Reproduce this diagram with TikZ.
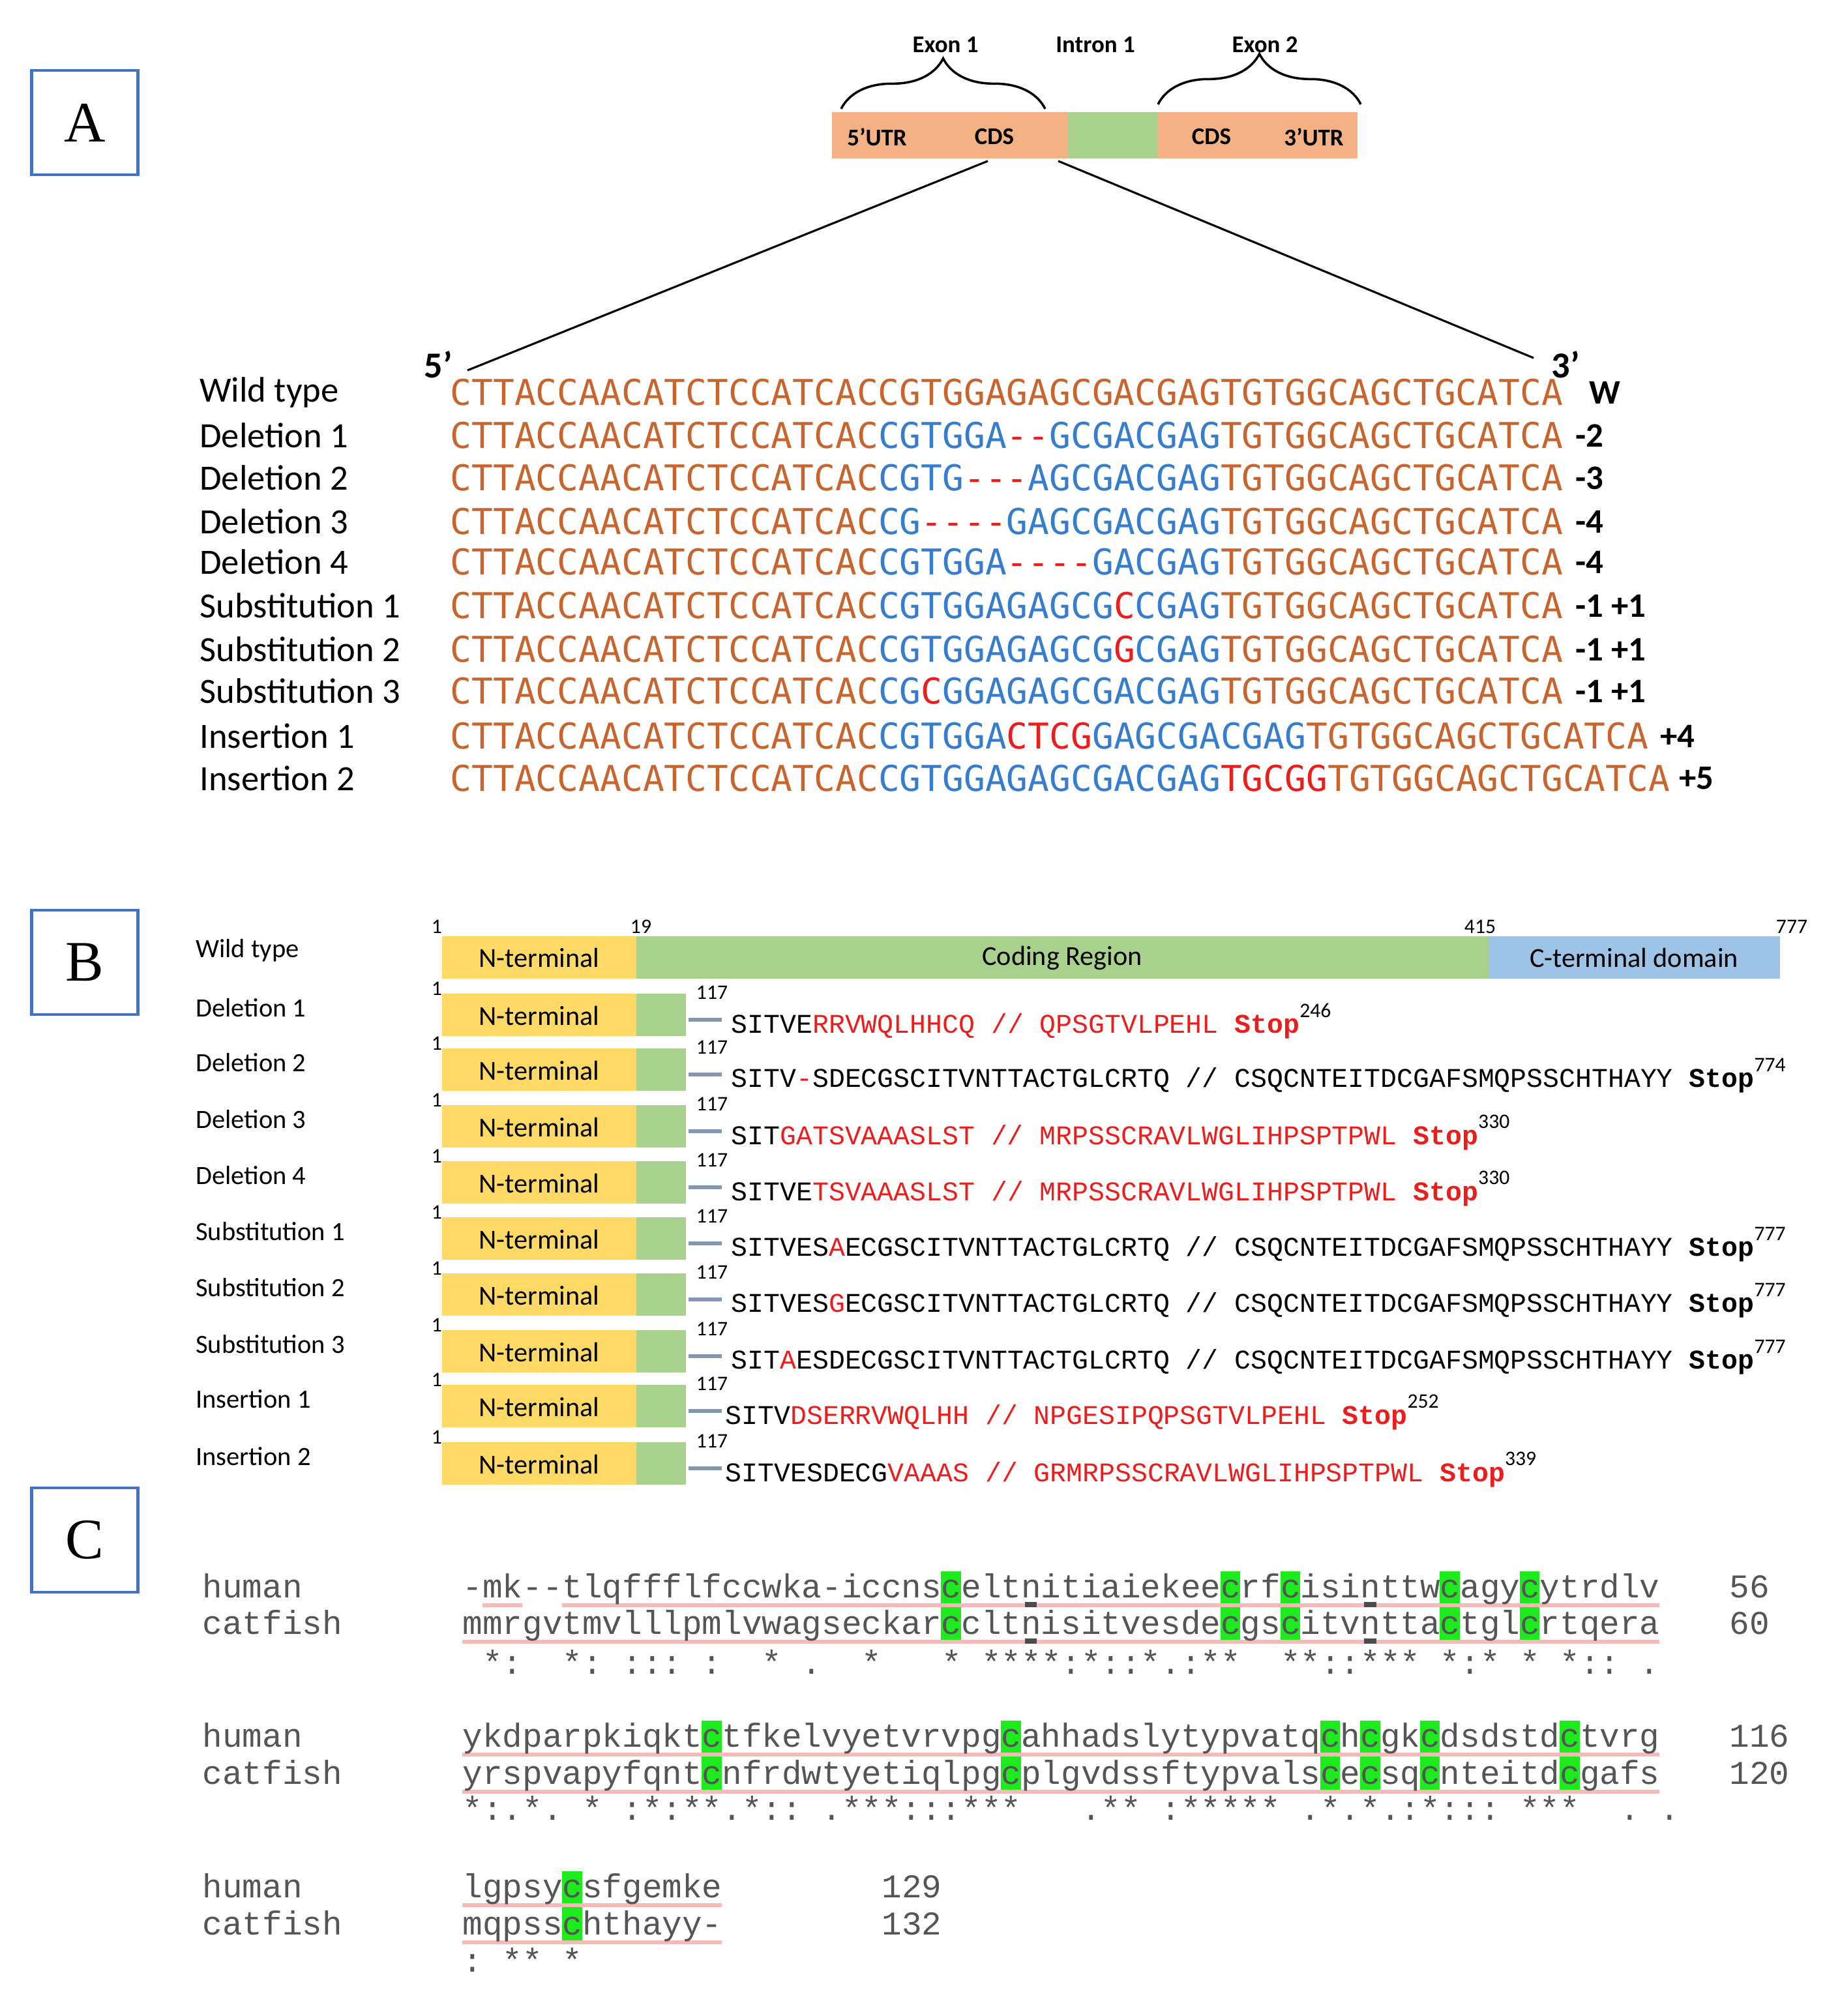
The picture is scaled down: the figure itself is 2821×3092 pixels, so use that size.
\documentclass[tikz,border=0pt]{standalone}
\usepackage{fontspec}
\setmainfont{Carlito}
\newfontfamily\seqA{DejaVu Sans Mono}
\newfontfamily\cour{Liberation Mono}
\newfontfamily\serifL{Liberation Serif}
\usetikzlibrary{decorations.pathreplacing}
\definecolor{sor}{RGB}{200,100,45}
\definecolor{sbl}{RGB}{55,125,205}
\definecolor{sred}{RGB}{235,30,30}
\definecolor{frameblue}{RGB}{68,114,196}
\definecolor{barorange}{RGB}{244,177,131}
\definecolor{bargreen}{RGB}{169,209,142}
\definecolor{baryellow}{RGB}{255,217,102}
\definecolor{barblue}{RGB}{157,195,230}
\definecolor{dashgrey}{RGB}{132,150,176}
\definecolor{cgrey}{RGB}{85,85,85}
\definecolor{cpink}{RGB}{250,185,185}
\definecolor{cgreen}{RGB}{30,235,30}
\newcommand\Og[1]{\textcolor{sor}{#1}}
\newcommand\Bl[1]{\textcolor{sbl}{#1}}
\newcommand\Rd[1]{\textcolor{sred}{#1}}
\newcommand\Stp[2]{\textbf{\textcolor{#1}{Stop}}\raisebox{1.1ex}{\rmfamily\fontsize{9}{9}\selectfont #2}}
\tikzset{
  panel/.style={draw=frameblue,line width=1.2pt,minimum width=1.63cm,minimum height=1.6cm,font=\serifL\fontsize{25}{25}\selectfont},
  rowlab/.style={anchor=west,font=\fontsize{15.5}{16}\selectfont},
  seq/.style={anchor=west,inner sep=0,font=\seqA\fontsize{15.5}{16}\selectfont},
  ctag/.style={anchor=west,font=\bfseries\fontsize{15}{16}\selectfont},
  blab/.style={anchor=west,font=\fontsize{11.5}{12}\selectfont},
  bseq/.style={anchor=west,inner sep=0,font=\cour\fontsize{11.8}{12}\selectfont},
  bnum/.style={font=\fontsize{9}{9}\selectfont,inner sep=0},
  cseq/.style={anchor=base west,inner sep=0,text=cgrey,font=\cour\fontsize{14.5}{15}\selectfont},
  brc/.style={line width=1pt,decoration={brace,amplitude=22},decorate},
}
\begin{document}
\begin{tikzpicture}[x=0.01cm,y=-0.01cm]
\useasboundingbox (0,0) rectangle (2821,3092);
% panel frames
\node[panel] (pA) at (130,188) {A};
\node[panel] (pB) at (130,1476) {B};
\node[panel] (pC) at (130,2362) {C};
% ---------- A: gene bar
\fill[barorange] (1276,172) rectangle (2082,243);
\fill[bargreen] (1638,172) rectangle (1776,243);
\node[font=\bfseries\fontsize{10.5}{11}\selectfont] (u5) at (1345,210) {5'UTR};
\node[font=\bfseries\fontsize{10.5}{11}\selectfont] (cd1) at (1525,210) {CDS};
\node[font=\bfseries\fontsize{10.5}{11}\selectfont] (cd2) at (1858,210) {CDS};
\node[font=\bfseries\fontsize{10.5}{11}\selectfont] (u3) at (2015,210) {3'UTR};
\draw[brc] (1290,167) -- (1603,167);
\draw[brc] (1776,160) -- (2087,160);
\node[font=\bfseries\fontsize{10.5}{11}\selectfont] (e1) at (1450,69) {Exon 1};
\node[font=\bfseries\fontsize{10.5}{11}\selectfont] (i1) at (1680,69) {Intron 1};
\node[font=\bfseries\fontsize{10.5}{11}\selectfont] (e2) at (1940,69) {Exon 2};
\coordinate (zl) at (1515,247); \coordinate (zr) at (1623,247);
\coordinate (zl2) at (717,568); \coordinate (zr2) at (2352,549);
\draw[line width=0.9pt] (zl) -- (zl2);
\draw[line width=0.9pt] (zr) -- (zr2);
\node[font=\bfseries\fontsize{16}{16}\selectfont] (p5) at (672,559) {5'};
\node[font=\bfseries\fontsize{16}{16}\selectfont] (p3) at (2401,559) {3'};
% ---------- A: sequences
\node[rowlab] (l1) at (294,602) {Wild type};
\node[rowlab] (l2) at (294,668) {Deletion 1};
\node[rowlab] (l3) at (294,733) {Deletion 2};
\node[rowlab] (l4) at (294,800) {Deletion 3};
\node[rowlab] (l5) at (294,862) {Deletion 4};
\node[rowlab] (l6) at (294,929) {Substitution 1};
\node[rowlab] (l7) at (294,996) {Substitution 2};
\node[rowlab] (l8) at (294,1060) {Substitution 3};
\node[rowlab] (l9) at (294,1129) {Insertion 1};
\node[rowlab] (l10) at (294,1194) {Insertion 2};
\node[seq] (s1) at (690,602) {\Og{CTTACCAACATCTCCATCACCGTGGAGAGCGACGAGTGTGGCAGCTGCATCA}};
\node[seq] (s2) at (690,668) {\Og{CTTACCAACATCTCCATCAC}\Bl{CGTGGA}\Rd{-{}-}\Bl{GCGACGAG}\Og{TGTGGCAGCTGCATCA}};
\node[seq] (s3) at (690,733) {\Og{CTTACCAACATCTCCATCAC}\Bl{CGTG}\Rd{-{}-{}-}\Bl{AGCGACGAG}\Og{TGTGGCAGCTGCATCA}};
\node[seq] (s4) at (690,800) {\Og{CTTACCAACATCTCCATCAC}\Bl{CG}\Rd{-{}-{}-{}-}\Bl{GAGCGACGAG}\Og{TGTGGCAGCTGCATCA}};
\node[seq] (s5) at (690,862) {\Og{CTTACCAACATCTCCATCAC}\Bl{CGTGGA}\Rd{-{}-{}-{}-}\Bl{GACGAG}\Og{TGTGGCAGCTGCATCA}};
\node[seq] (s6) at (690,929) {\Og{CTTACCAACATCTCCATCAC}\Bl{CGTGGAGAGCG}\Rd{C}\Bl{CGAG}\Og{TGTGGCAGCTGCATCA}};
\node[seq] (s7) at (690,996) {\Og{CTTACCAACATCTCCATCAC}\Bl{CGTGGAGAGCG}\Rd{G}\Bl{CGAG}\Og{TGTGGCAGCTGCATCA}};
\node[seq] (s8) at (690,1060) {\Og{CTTACCAACATCTCCATCAC}\Bl{CG}\Rd{C}\Bl{GGAGAGCGACGAG}\Og{TGTGGCAGCTGCATCA}};
\node[seq] (s9) at (690,1129) {\Og{CTTACCAACATCTCCATCAC}\Bl{CGTGGA}\Rd{CTCG}\Bl{GAGCGACGAG}\Og{TGTGGCAGCTGCATCA}};
\node[seq] (s10) at (690,1194) {\Og{CTTACCAACATCTCCATCAC}\Bl{CGTGGAGAGCGACGAG}\Rd{TGCGG}\Og{TGTGGCAGCTGCATCA}};
\node[ctag] (t1) at (2425,602) {W};
\node[ctag] (t2) at (2404,668) {-2};
\node[ctag] (t3) at (2404,733) {-3};
\node[ctag] (t4) at (2404,800) {-4};
\node[ctag] (t5) at (2404,862) {-4};
\node[ctag] (t6) at (2404,929) {-1 +1};
\node[ctag] (t7) at (2404,996) {-1 +1};
\node[ctag] (t8) at (2404,1060) {-1 +1};
\node[ctag] (t9) at (2534,1129) {+4};
\node[ctag] (t10) at (2563,1194) {+5};
% ---------- B: wild type bar
\fill[baryellow] (678,1436) rectangle (976,1501);
\fill[bargreen] (976,1436) rectangle (2283,1501);
\fill[barblue] (2283,1436) rectangle (2730,1501);
\node[font=\fontsize{12}{12}\selectfont] (nt) at (827,1469) {N-terminal};
\node[font=\fontsize{12}{12}\selectfont] (cr) at (1629,1469) {Coding Region};
\node[font=\fontsize{12}{12}\selectfont] (ct) at (2506,1469) {C-terminal domain};
\node[bnum] (n1) at (670,1421) {1};
\node[bnum] (n19) at (983,1421) {19};
\node[bnum] (n415) at (2270,1421) {415};
\node[bnum] (n777) at (2748,1421) {777};
\node[blab] (bw) at (288,1458) {Wild type};
\newcommand\mrow[4]{%
  \fill[baryellow] (678,#1-32) rectangle (976,#1+33);
  \fill[bargreen] (976,#1-32) rectangle (1052,#1+33);
  \node[font=\fontsize{12}{12}\selectfont] at (827,#1+2) {N-terminal};
  \node[bnum] at (670,#1-40) {1};
  \draw[dashgrey,line width=1.6pt] (1056,#1+8) -- (1107,#1+8);
  \node[bnum] at (1092,#1-34) {117};
  \node[blab] at (288,#1-10) {#2};
  \node[bseq] at (#3,#1+10) {#4};}
\mrow{1556}{Deletion 1}{1121}{SITVE\Rd{RRVWQLHHCQ // QPSGTVLPEHL }\Stp{sred}{246}}
\mrow{1640}{Deletion 2}{1121}{SITV\Rd{-}SDECGSCITVNTTACTGLCRTQ // CSQCNTEITDCGAFSMQPSSCHTHAYY \Stp{black}{774}}
\mrow{1727}{Deletion 3}{1121}{SIT\Rd{GATSVAAASLST // MRPSSCRAVLWGLIHPSPTPWL }\Stp{sred}{330}}
\mrow{1813}{Deletion 4}{1121}{SITVE\Rd{TSVAAASLST // MRPSSCRAVLWGLIHPSPTPWL }\Stp{sred}{330}}
\mrow{1899}{Substitution 1}{1121}{SITVES\Rd{A}ECGSCITVNTTACTGLCRTQ // CSQCNTEITDCGAFSMQPSSCHTHAYY \Stp{black}{777}}
\mrow{1985}{Substitution 2}{1121}{SITVES\Rd{G}ECGSCITVNTTACTGLCRTQ // CSQCNTEITDCGAFSMQPSSCHTHAYY \Stp{black}{777}}
\mrow{2072}{Substitution 3}{1121}{SIT\Rd{A}ESDECGSCITVNTTACTGLCRTQ // CSQCNTEITDCGAFSMQPSSCHTHAYY \Stp{black}{777}}
\mrow{2156}{Insertion 1}{1112}{SITV\Rd{DSERRVWQLHH // NPGESIPQPSGTVLPEHL }\Stp{sred}{252}}
\mrow{2244}{Insertion 2}{1112}{SITVESDECG\Rd{VAAAS // GRMRPSSCRAVLWGLIHPSPTPWL }\Stp{sred}{339}}
% ---------- C
\newcommand\grn[3]{\foreach \i in {#3} {\fill[cgreen] (709+\i*30.6,#1-40) rectangle (709+\i*30.6+30.6,#2+14);}}
\newcommand\ull[3]{\fill[cpink] (709+#2*30.6,#1+9) rectangle (709+#3*30.6,#1+15);}
% block 1
\grn{2450}{2506}{24,38,41,49,53}
\ull{2450}{1}{3}\ull{2450}{5}{60}\ull{2506}{0}{60}
\fill[black!70] (709+28*30.6+6,2457) rectangle (709+29*30.6-6,2465);
\fill[black!70] (709+45*30.6+6,2457) rectangle (709+46*30.6-6,2465);
\fill[black!70] (709+28*30.6+6,2513) rectangle (709+29*30.6-6,2521);
\fill[black!70] (709+45*30.6+6,2513) rectangle (709+46*30.6-6,2521);
\node[cseq] (h1n) at (310,2450) {human};
\node[cseq] (c1n) at (310,2506) {catfish};
\node[cseq] (h1) at (709,2450) {-mk-{}-tlqffflfccwka-iccnsceltnitiaiekeecrfcisinttwcagycytrdlv};
\node[cseq] (c1) at (709,2506) {mmrgvtmvlllpmlvwagseckarccltnisitvesdecgscitvnttactglcrtqera};
\node[cseq] (k1) at (709,2567) {~*:~~*:~:::~:~~*~.~~*~~~*~****:*::*.:**~~**::***~*:*~*~*::~.};
\node[cseq] (h1r) at (2652,2450) {56};
\node[cseq] (c1r) at (2652,2506) {60};
% block 2
\grn{2679}{2736}{12,27,43,45,48,55}
\ull{2679}{0}{60}\ull{2736}{0}{60}
\node[cseq] (h2n) at (310,2679) {human};
\node[cseq] (c2n) at (310,2736) {catfish};
\node[cseq] (h2) at (709,2679) {ykdparpkiqktctfkelvyetvrvpgcahhadslytypvatqchcgkcdsdstdctvrg};
\node[cseq] (c2) at (709,2736) {yrspvapyfqntcnfrdwtyetiqlpgcplgvdssftypvalscecsqcnteitdcgafs};
\node[cseq] (k2) at (709,2791) {*:.*.~*~:*:**.*::~.***:::***~~~.**~:*****~.*.*.:*:::~***~~.~.};
\node[cseq] (h2r) at (2652,2679) {116};
\node[cseq] (c2r) at (2652,2736) {120};
% block 3
\grn{2910}{2967}{5}
\ull{2910}{0}{13}\ull{2967}{0}{13}
\node[cseq] (h3n) at (310,2910) {human};
\node[cseq] (c3n) at (310,2967) {catfish};
\node[cseq] (h3) at (709,2910) {lgpsycsfgemke};
\node[cseq] (c3) at (709,2967) {mqpsschthayy-};
\node[cseq] (k3) at (709,3024) {:~**~*};
\node[cseq] (h3r) at (1352,2910) {129};
\node[cseq] (c3r) at (1352,2967) {132};
\end{tikzpicture}
\end{document}
